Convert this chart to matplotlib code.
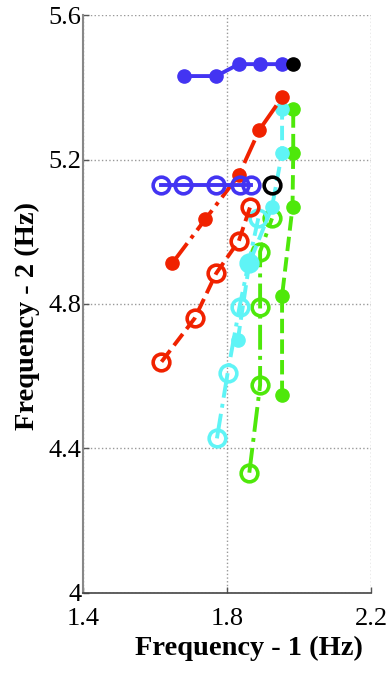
import numpy as np
import matplotlib.pyplot as plt

# frequency pairs (f1, f2) for each branch
blue_fill_f1 = [1.680, 1.770, 1.833, 1.892, 1.952]
blue_fill_f2 = [5.431, 5.431, 5.464, 5.464, 5.464]
blue_open_f1 = [1.618, 1.678, 1.770, 1.835, 1.867]
blue_open_f2 = [5.129, 5.129, 5.129, 5.129, 5.129]

red_fill_f1 = [1.648, 1.740, 1.833, 1.890, 1.953]
red_fill_f2 = [4.913, 5.035, 5.157, 5.282, 5.372]
red_open_f1 = [1.618, 1.710, 1.770, 1.833, 1.864]
red_open_f2 = [4.640, 4.760, 4.885, 4.975, 5.068]

cyan_fill_f1 = [1.830, 1.862, 1.925, 1.953, 1.953]
cyan_fill_f2 = [4.700, 4.913, 5.068, 5.219, 5.340]
cyan_open_f1 = [1.772, 1.802, 1.835, 1.860, 1.887]
cyan_open_f2 = [4.428, 4.610, 4.793, 4.913, 5.037]

green_fill_f1 = [1.953, 1.953, 1.982, 1.984, 1.984]
green_fill_f2 = [4.548, 4.823, 5.068, 5.219, 5.340]
green_open_f1 = [1.862, 1.892, 1.892, 1.892, 1.925]
green_open_f2 = [4.333, 4.576, 4.793, 4.945, 5.037]

black_fill = (1.984, 5.464)
black_open = (1.925, 5.129)

xticks = [1.4, 1.8, 2.2]
yticks = [4.0, 4.4, 4.8, 5.2, 5.6]
xticklabels = ['1.4', '1.8', '2.2']
yticklabels = ['4', '4.4', '4.8', '5.2', '5.6']

BLUE = '#4334f2'
RED = '#f02200'
CYAN = '#5ff4f6'
GREEN = '#4ee80a'

plt.rcParams['font.family'] = ['Liberation Serif', 'DejaVu Serif']

fig = plt.figure(figsize=(3.91, 6.73), dpi=100)
ax = fig.add_axes([0.2123, 0.1189, 0.7365, 0.8588])

lw = 2.8
fs = 9.5   # filled dot size
os_ = 12.0  # open circle size
ow = 2.6

def filled(x, y, c, ls):
    ax.plot(x, y, ls, color=c, lw=lw, marker='o', ms=fs, mfc=c, mec=c, zorder=3)

def opened(x, y, c, ls):
    ax.plot(x, y, ls, color=c, lw=lw, marker='o', ms=os_, mfc='none', mec=c, mew=ow, zorder=3)

opened(green_open_f1, green_open_f2, GREEN, '-.')
filled(green_fill_f1, green_fill_f2, GREEN, '--')
opened(cyan_open_f1, cyan_open_f2, CYAN, '-.')
filled(cyan_fill_f1, cyan_fill_f2, CYAN, '--')
opened(red_open_f1, red_open_f2, RED, '--')
filled(red_fill_f1, red_fill_f2, RED, '-.')
opened(blue_open_f1, blue_open_f2, BLUE, '-')
filled(blue_fill_f1, blue_fill_f2, BLUE, '-')

ax.plot([black_fill[0]], [black_fill[1]], 'o', color='black', ms=fs, zorder=4)
ax.plot([black_open[0]], [black_open[1]], 'o', mfc='none', mec='black', ms=os_, mew=ow, zorder=4)

ax.set_xlim(1.4, 2.2)
ax.set_ylim(4.0, 5.6)
ax.set_xticks(xticks)
ax.set_xticklabels(xticklabels)
ax.set_yticks(yticks)
ax.set_yticklabels(yticklabels)
ax.tick_params(direction='in', length=4, width=1, color='#555555', labelsize=19, pad=1)
ax.tick_params(axis='x', pad=11)

ax.grid(True, linestyle=':', color='#999999', lw=1)
ax.set_axisbelow(True)
ax.spines['top'].set_visible(False)
ax.spines['right'].set_visible(False)
ax.spines['left'].set_color('#888888')
ax.spines['bottom'].set_color('#444444')
ax.spines['left'].set_linewidth(1.5)
ax.spines['bottom'].set_linewidth(1.2)

ax.set_xlabel('Frequency - 1 (Hz)', fontsize=20.5, fontweight='bold')
ax.set_ylabel('Frequency - 2 (Hz)', fontsize=20.5, fontweight='bold')
ax.xaxis.set_label_coords(0.575, -0.075)
ax.yaxis.set_label_coords(-0.15, 0.48)

fig.savefig('out.png', dpi=100)
